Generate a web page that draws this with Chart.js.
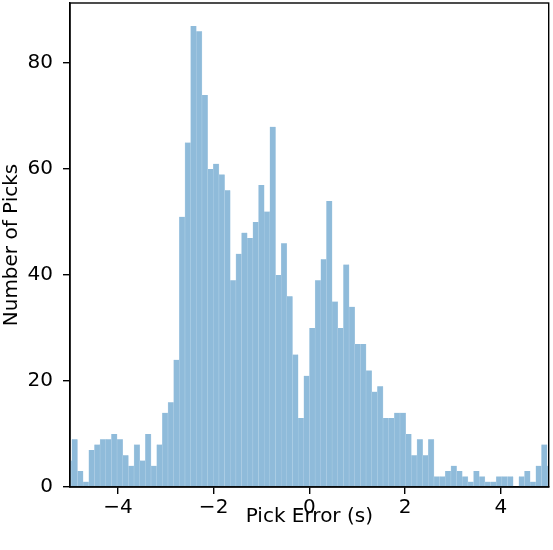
<!DOCTYPE html>
<html>
<head>
<meta charset="utf-8">
<script src="https://cdn.jsdelivr.net/npm/chart.js@4.4.1/dist/chart.umd.min.js"></script>
<style>
  html, body { margin: 0; padding: 0; background: #fff; }
  canvas { display: block; }
</style>
</head>
<body>
<canvas id="c" width="553" height="550"></canvas>
<script>
// Histogram bin centres (Pick Error, s)
const binCenters = [
  -5.0211, -4.9029, -4.7847, -4.6665, -4.5483, -4.4301, -4.3118, -4.1936, -4.0754, -3.9572,
  -3.8390, -3.7208, -3.6026, -3.4844, -3.3662, -3.2480, -3.1297, -3.0115, -2.8933, -2.7751,
  -2.6569, -2.5387, -2.4205, -2.3023, -2.1841, -2.0658, -1.9476, -1.8294, -1.7112, -1.5930,
  -1.4748, -1.3566, -1.2384, -1.1202, -1.0020, -0.8837, -0.7655, -0.6473, -0.5291, -0.4109,
  -0.2927, -0.1745, -0.0563, 0.0619, 0.1801, 0.2984, 0.4166, 0.5348, 0.6530, 0.7712,
  0.8894, 1.0076, 1.1258, 1.2440, 1.3623, 1.4805, 1.5987, 1.7169, 1.8351, 1.9533,
  2.0715, 2.1897, 2.3079, 2.4262, 2.5444, 2.6626, 2.7808, 2.8990, 3.0172, 3.1354,
  3.2536, 3.3718, 3.4901, 3.6083, 3.7265, 3.8447, 3.9629, 4.0811, 4.1993, 4.3175,
  4.4357, 4.5540, 4.6722, 4.7904, 4.9086, 5.0268
];
// Number of picks in each bin
const pickCounts = [
  5, 9, 3, 1, 7, 8, 9, 9, 10, 9,
  6, 4, 8, 5, 10, 4, 8, 14, 16, 24,
  51, 65, 87, 86, 74, 60, 61, 59, 56, 39,
  44, 48, 47, 50, 57, 52, 68, 40, 46, 36,
  25, 13, 21, 30, 39, 43, 54, 35, 30, 42,
  34, 27, 27, 22, 18, 19, 13, 13, 14, 14,
  10, 6, 9, 6, 9, 2, 2, 3, 4, 3,
  2, 1, 3, 2, 1, 1, 2, 2, 2, 0,
  2, 3, 1, 4, 8, 4
];
const xTickValues = [-4, -2, 0, 2, 4];
const yTickValues = [0, 20, 40, 60, 80];
const xRange = [-5, 5];
const yRange = [0, 91.35];

const FONT = { family: "'DejaVu Sans', sans-serif", size: 20 };
const fmt = v => (v < 0 ? '\u2212' + Math.abs(v) : String(v));

const frame = {
  id: 'frame',
  afterDatasetsDraw(chart) {
    const a = chart.chartArea, ctx = chart.ctx;
    ctx.save();
    ctx.strokeStyle = '#000';
    ctx.lineWidth = 1.4;
    ctx.strokeRect(a.left, a.top, a.right - a.left, a.bottom - a.top);
    ctx.restore();
  }
};

new Chart(document.getElementById('c'), {
  type: 'bar',
  data: {
    datasets: [{
      data: binCenters.map((c, i) => ({ x: c, y: pickCounts[i] })),
      backgroundColor: '#8fbbda',
      borderColor: '#b3d1e7',
      borderWidth: { left: 0.5, right: 0.5, top: 0, bottom: 0 },
      borderSkipped: false,
      barPercentage: 1,
      categoryPercentage: 1,
      clip: 0
    }]
  },
  options: {
    responsive: false,
    animation: false,
    devicePixelRatio: 1,
    layout: { padding: { top: 3, right: 4.3, left: 0, bottom: 0 } },
    plugins: { legend: { display: false }, tooltip: { enabled: false } },
    scales: {
      x: {
        type: 'linear',
        min: xRange[0], max: xRange[1],
        offset: false,
        afterBuildTicks: s => { s.ticks = xTickValues.map(v => ({ value: v })); },
        afterFit: s => { s.height = 63; s.paddingLeft = 0; s.paddingRight = 0; },
        grid: { offset: false, drawOnChartArea: false, drawTicks: true, tickLength: 7, color: '#000', lineWidth: 1.4 },
        border: { display: true, color: '#000', width: 1.4 },
        ticks: { color: '#000', font: FONT, padding: 2, maxRotation: 0, callback: v => fmt(v) },
        title: { display: true, text: 'Pick Error (s)', color: '#000', font: FONT, padding: { top: 0, bottom: 21 } }
      },
      y: {
        type: 'linear',
        min: yRange[0], max: yRange[1],
        afterBuildTicks: s => { s.ticks = yTickValues.map(v => ({ value: v })); },
        afterFit: s => { s.width = 70; s.paddingTop = 0; s.paddingBottom = 0; },
        grid: { drawOnChartArea: false, drawTicks: true, tickLength: 7, color: '#000', lineWidth: 1.4 },
        border: { display: true, color: '#000', width: 1.4 },
        ticks: { color: '#000', font: FONT, padding: 10, callback: v => fmt(v) },
        title: { display: true, text: 'Number of Picks', color: '#000', font: FONT, padding: { top: 0, bottom: 0 } }
      }
    }
  },
  plugins: [frame]
});
</script>
</body>
</html>
